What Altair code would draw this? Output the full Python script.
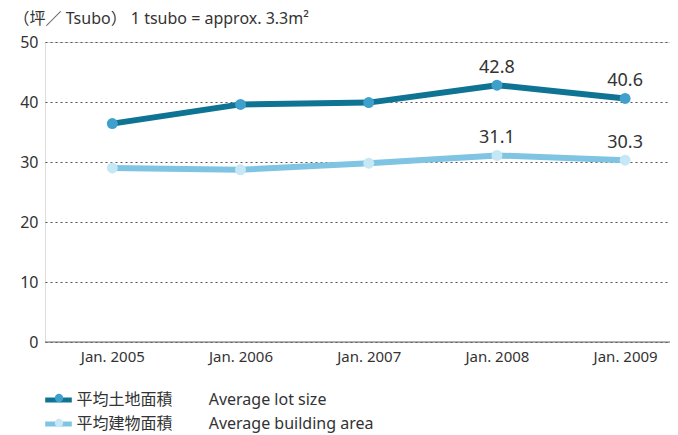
import altair as alt
import pandas as pd

years = ["Jan. 2005", "Jan. 2006", "Jan. 2007", "Jan. 2008", "Jan. 2009"]
lot_size = [36.4, 39.6, 39.9, 42.8, 40.6]
building_area = [29.0, 28.7, 29.8, 31.1, 30.3]
series_jp = ["平均土地面積", "平均建物面積"]
series_en = ["Average lot size", "Average building area"]
labeled_years = ["Jan. 2008", "Jan. 2009"]
line_colors = ["#0f7494", "#7fc4e2"]
marker_colors = ["#3fa0cc", "#c6e7f6"]
y_ticks = [0, 10, 20, 30, 40, 50]
axis_note = "（坪／ Tsubo）  1 tsubo = approx. 3.3m²"

FONT = "Noto Sans, Noto Sans CJK JP"
TXT = "#333333"

names = [jp + "\u3000\u3000   " + en for jp, en in zip(series_jp, series_en)]
rows = []
for name, en, vals in zip(names, series_en, [lot_size, building_area]):
    for yr, v in zip(years, vals):
        rows.append({"year": yr, "value": v, "series": name, "s2": en,
                     "show": yr in labeled_years})
df = pd.DataFrame(rows)

x_enc = alt.X("year:N", sort=years,
              scale=alt.Scale(type="point", domain=years, padding=0.4375, align=0.6),
              axis=alt.Axis(title=None, labelAngle=0, ticks=False, domain=False, grid=False,
                            labelFontSize=15, labelPadding=7, labelColor=TXT, labelFont=FONT))
y_enc = alt.Y("value:Q",
              scale=alt.Scale(domain=[0, 50], nice=False, zero=True),
              axis=alt.Axis(values=y_ticks, title=axis_note, titleAngle=0, titleAlign="left",
                            titleBaseline="middle", titleX=-32, titleY=-24,
                            titleFontWeight="normal", titleFontSize=16, titleColor=TXT,
                            titleFont=FONT,
                            labelFontSize=16, labelColor=TXT, labelFont=FONT,
                            ticks=False, domain=False, grid=True, gridDash=[2, 3],
                            gridColor="#555555", gridWidth=1, labelPadding=7))

base = alt.Chart(df)

zero_rule = alt.Chart(pd.DataFrame({"value": [y_ticks[0]]})).mark_rule(
    color="#6a6a6a", strokeWidth=1.2).encode(y=y_enc)

lines = base.mark_line(strokeWidth=6, strokeJoin="round").encode(
    x=x_enc, y=y_enc,
    color=alt.Color("series:N",
                    scale=alt.Scale(domain=names, range=line_colors),
                    legend=alt.Legend(title=None, orient="none", legendX=1.5, legendY=346,
                                      direction="vertical", symbolType="M-1.4,0H1.4",
                                      symbolSize=361, symbolStrokeWidth=5,
                                      labelFontSize=16, labelColor=TXT, labelFont=FONT,
                                      labelLimit=600, rowPadding=2, padding=0,
                                      labelOffset=6)))

points = base.mark_circle(size=120, opacity=1).encode(
    x=x_enc, y=y_enc,
    fill=alt.Fill("s2:N",
                  scale=alt.Scale(domain=series_en, range=marker_colors),
                  legend=alt.Legend(title=None, orient="none", legendX=6, legendY=348,
                                    direction="vertical", symbolType="circle",
                                    symbolSize=70, symbolStrokeWidth=0,
                                    labelFontSize=16, labelFont=FONT, labelExpr="''",
                                    labelLimit=600, rowPadding=9, padding=0,
                                    labelOffset=4)))

labels = base.transform_filter(alt.datum.show).mark_text(
    fontSize=18, font=FONT, color=TXT, dy=-17, baseline="middle").encode(
    x=x_enc, y=y_enc, text=alt.Text("value:Q", format=".1f"))

chart = alt.layer(zero_rule, lines, points, labels).properties(
    width=625, height=300,
    autosize=alt.AutoSizeParams(type="none"),
    padding={"left": 37, "top": 34, "right": 0, "bottom": 93},
).configure_view(stroke=None).configure(font=FONT)

chart.save("out.html", embed_options={"renderer": "svg", "actions": False})
